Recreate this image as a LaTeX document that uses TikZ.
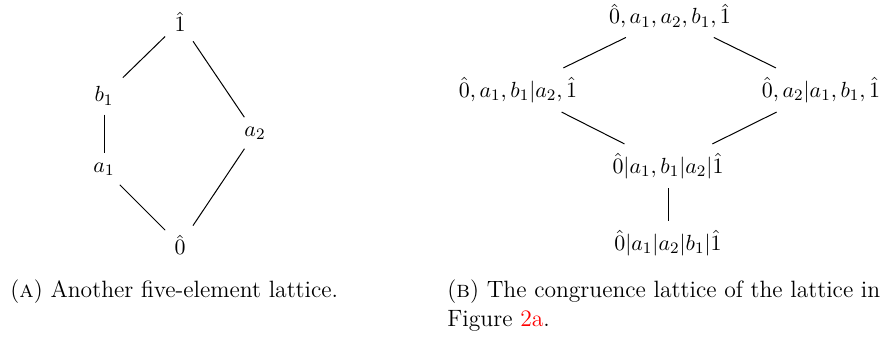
\documentclass[tikz,border=0pt]{standalone}
\usepackage{xcolor}
\begin{document}
\begin{tikzpicture}[x=0.5pt,y=-0.5pt,
  every node/.style={font=\fontsize{11}{14.5}\selectfont},
  el/.style={inner sep=4.5pt},
  captext/.style={anchor=base west, inner sep=0pt, font=\fontsize{11.8}{14.5}\selectfont},
  conn/.style={line width=0.5pt, black}]
\useasboundingbox (0,0) rectangle (889,341);
% left lattice
\node[el] (one) at (180,22) {$\hat{1}$};
\node[el] (b1) at (104,96) {$b_1$};
\node[el] (a1) at (104,169) {$a_1$};
\node[el] (a2) at (255,133) {$a_2$};
\node[el] (zero) at (180,245) {$\hat{0}$};
\draw[conn] (one) -- (b1);
\draw[conn] (one) -- (a2);
\draw[conn] (b1) -- (a1);
\draw[conn] (a1) -- (zero);
\draw[conn] (a2) -- (zero);
% right lattice
\node[el] (top) at (670,16) {$\hat{0},a_1,a_2,b_1,\hat{1}$};
\node[el] (lm) at (518,90) {$\hat{0},a_1,b_1|a_2,\hat{1}$};
\node[el] (rm) at (821,90) {$\hat{0},a_2|a_1,b_1,\hat{1}$};
\node[el] (mid) at (668,166) {$\hat{0}|a_1,b_1|a_2|\hat{1}$};
\node[el] (bot) at (668,243) {$\hat{0}|a_1|a_2|b_1|\hat{1}$};
\draw[conn] (top) -- (lm);
\draw[conn] (top) -- (rm);
\draw[conn] (lm) -- (mid);
\draw[conn] (rm) -- (mid);
\draw[conn] (mid) -- (bot);
% captions
\node[captext] (capA) at (10,298) {(\textsc{a}) Another five-element lattice.};
\node[captext] (capB1) at (447,298) {(\textsc{b}) The congruence lattice of the lattice in};
\node[captext] (capB2) at (447,327) {Figure \textcolor{red}{2a}.};
\end{tikzpicture}
\end{document}
